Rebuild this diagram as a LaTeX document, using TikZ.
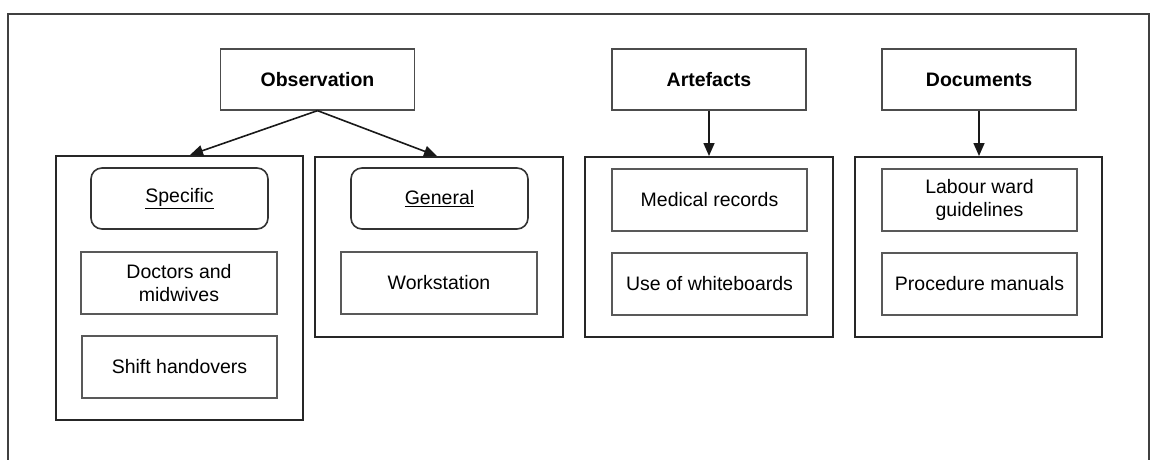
\documentclass[tikz,border=0pt]{standalone}
\usepackage{fontspec}
\setmainfont{Liberation Sans}
\usetikzlibrary{arrows.meta}
\begin{document}
\begin{tikzpicture}[x=1pt,y=-1pt,
  basefont/.style={font=\fontsize{19.5}{23.5}\selectfont},
  head/.style={draw=black!70,line width=1.3pt,font=\fontsize{19.5}{23.5}\selectfont\bfseries,
    minimum width=194pt,minimum height=61pt,inner sep=0pt},
  grp/.style={draw=black!85,line width=2pt,inner sep=0pt},
  item/.style={draw=black!65,line width=1.3pt,basefont,align=center,
    minimum width=195pt,minimum height=62pt,inner sep=0pt},
  rbox/.style={draw=black!80,line width=1.6pt,rounded corners=11pt,basefont,
    minimum width=177pt,minimum height=61pt,inner sep=0pt},
  link/.style={draw=black!90,line width=1.6pt,-{Triangle[length=13pt,width=11pt]}}]
\useasboundingbox (0,0) rectangle (1153,460);
\fill[white] (0,0) rectangle (1153,460);
% outer frame, open towards the bottom edge
\draw[black!75,line width=2pt] (8,462) -- (8,14) -- (1149,14) -- (1149,462);

% top-level headings
\node[head] (obs) at (317.5,79.5) {Observation};
\node[head] (art) at (709,79.5) {Artefacts};
\node[head] (doc) at (979,79.5) {Documents};

% group frames
\node[grp,minimum width=247pt,minimum height=264pt] (gspec) at (179.5,288) {};
\node[grp,minimum width=248pt,minimum height=180pt] (ggen) at (439,247) {};
\node[grp,minimum width=248pt,minimum height=180pt] (gart) at (709,247) {};
\node[grp,minimum width=247pt,minimum height=180pt] (gdoc) at (978.5,247) {};

% observation: specific
\node[rbox] (spec) at (179.5,198.5) {\underline{Specific}};
\node[item,minimum width=196pt] (docs) at (179,283) {Doctors and\\midwives};
\node[item] (shift) at (179.5,367) {Shift handovers};

% observation: general
\node[rbox] (gen) at (439.5,198.5) {\underline{General}};
\node[item,minimum width=196pt] (work) at (439,283) {Workstation};

% artefacts
\node[item] (med) at (709.5,200) {Medical records};
\node[item] (white) at (709.5,284) {Use of whiteboards};

% documents
\node[item] (labour) at (979.5,200) {Labour ward\\guidelines};
\node[item] (proc) at (979.5,284) {Procedure manuals};

% connectors
\draw[link] (obs.south) -- ([xshift=10.5pt]gspec.north);
\draw[link] (obs.south) -- ([xshift=-2pt]ggen.north);
\draw[link] (art.south) -- (art.south |- gart.north);
\draw[link] (doc.south) -- (doc.south |- gdoc.north);
\end{tikzpicture}
\end{document}
